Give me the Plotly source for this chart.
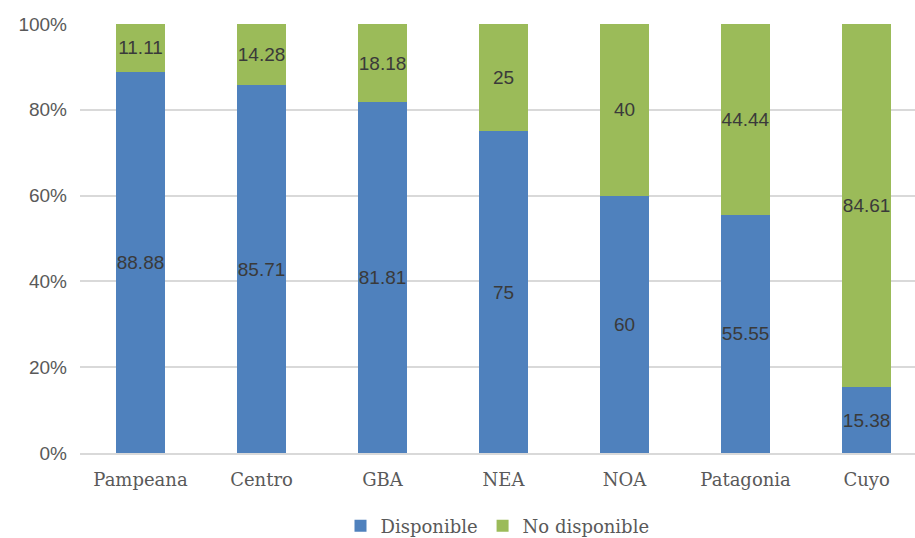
import plotly.graph_objects as go

regions = ["Pampeana", "Centro", "GBA", "NEA", "NOA", "Patagonia", "Cuyo"]
disponible = [88.88, 85.71, 81.81, 75, 60, 55.55, 15.38]
no_disponible = [11.11, 14.28, 18.18, 25, 40, 44.44, 84.61]
y_ticks = [0, 20, 40, 60, 80, 100]

BLUE = "#4f81bd"
GREEN = "#9bbb59"
LABEL_FONT = dict(family="Liberation Sans", size=19, color="#3a3a3a")
SERIF = "DejaVu Serif"

fig = go.Figure()
for name, vals, color in [("Disponible", disponible, BLUE),
                          ("No disponible", no_disponible, GREEN)]:
    fig.add_trace(go.Bar(
        name=name, x=regions, y=vals, marker_color=color,
        text=[f"{v:g}" for v in vals], textposition="inside",
        insidetextanchor="middle", textangle=0, constraintext="none",
        textfont=LABEL_FONT, marker_line_width=0,
    ))

fig.update_layout(
    barmode="stack",
    bargap=0.6,
    width=915, height=538,
    margin=dict(l=80, r=0, t=24, b=85, autoexpand=False),
    plot_bgcolor="white", paper_bgcolor="white",
    legend=dict(
        orientation="h", x=0.5, xanchor="center", y=-0.17, yanchor="middle",
        font=dict(family=SERIF, size=18, color="#595959"),
        traceorder="normal",
    ),
)
fig.update_xaxes(
    range=[-0.5, 6.4],
    showgrid=False, showline=True, linecolor="#d9d9d9", linewidth=1.5,
    ticks="", ticklabelstandoff=10,
    tickfont=dict(family=SERIF, size=18, color="#595959"),
)
fig.update_yaxes(
    range=[0, 100], tickvals=y_ticks, ticktext=[f"{t}%" for t in y_ticks],
    showgrid=True, gridcolor="#d9d9d9", gridwidth=1.5, zeroline=False,
    ticks="", ticklabelstandoff=12,
    tickfont=dict(family="Liberation Sans", size=19, color="#595959"),
)

fig.write_html("out.html")
